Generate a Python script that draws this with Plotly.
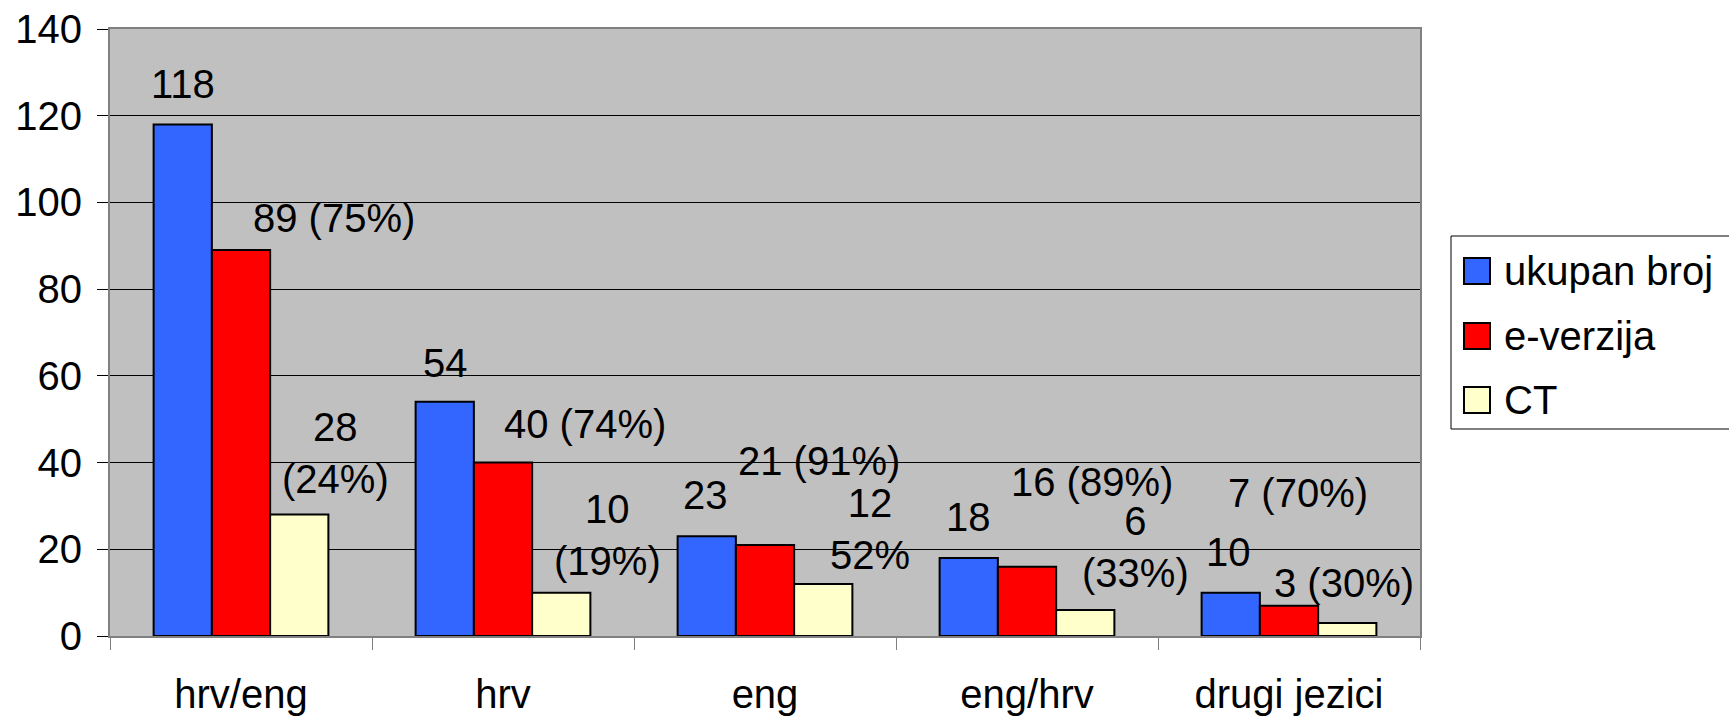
import plotly.graph_objects as go

# ---- data ----
categories = ["hrv/eng", "hrv", "eng", "eng/hrv", "drugi jezici"]
series_names = ["ukupan broj", "e-verzija", "CT"]
ukupan_broj = [118, 54, 23, 18, 10]
e_verzija = [89, 40, 21, 16, 7]
ct = [28, 10, 12, 6, 3]
ukupan_labels = ["118", "54", "23", "18", "10"]
e_verzija_labels = ["89 (75%)", "40 (74%)", "21 (91%)", "16 (89%)", "7 (70%)"]
ct_labels = ["28<br>(24%)", "10<br>(19%)", "12<br>52%", "6<br>(33%)", "3 (30%)"]
y_ticks = [0, 20, 40, 60, 80, 100, 120, 140]

# ---- styling / label placement (pixels relative to category centre & bar top) ----
colors = ["#3366FF", "#FF0000", "#FFFFCC"]
label_dx = [[-58, -58, -60, -59, -61],
            [93, 82, 54, 65, 9],
            [94, 104, 105, 108, 55]]
label_dy = [[40, 39, 41, 41, 41],
            [32, 39, 84, 85, 113],
            [62, 58, 55, 63, 40]]

W, H = 1729, 718
L, R, T, B = 110, 1420, 29, 636
FONT = "Liberation Sans, Arial, sans-serif"
FS = 40

values = [ukupan_broj, e_verzija, ct]
labels = [ukupan_labels, e_verzija_labels, ct_labels]

fig = go.Figure()
for name, vals, col in zip(series_names, values, colors):
    fig.add_trace(go.Bar(
        name=name, x=categories, y=vals,
        marker=dict(color=col, line=dict(color="black", width=2)),
        showlegend=False, hoverinfo="skip"))

annotations = []
for s in range(3):
    for i, cat in enumerate(categories):
        annotations.append(dict(
            x=cat, y=values[s][i], xref="x", yref="y",
            text=labels[s][i], showarrow=False,
            xanchor="center", yanchor="middle",
            xshift=label_dx[s][i], yshift=label_dy[s][i],
            font=dict(family=FONT, size=FS, color="black")))

# manual legend (pixel -> paper helpers)
def px_x(p):
    return (p - L) / (R - L)

def px_y(p):
    return (B - p) / (B - T)

shapes = [dict(type="rect", xref="paper", yref="paper",
               x0=px_x(1451), x1=px_x(1740), y0=px_y(429), y1=px_y(236),
               line=dict(color="black", width=1), fillcolor="white", layer="below")]
legend_y = [271, 336, 400]
for name, col, yc in zip(series_names, colors, legend_y):
    shapes.append(dict(type="rect", xref="paper", yref="paper",
                       x0=px_x(1464), x1=px_x(1490), y0=px_y(yc + 13), y1=px_y(yc - 13),
                       line=dict(color="black", width=2), fillcolor=col))
    annotations.append(dict(x=px_x(1502), y=px_y(yc), xref="paper", yref="paper",
                            text=name, showarrow=False, xanchor="left", yanchor="middle",
                            font=dict(family=FONT, size=FS, color="black")))

fig.update_layout(
    width=W, height=H,
    margin=dict(l=L, r=W - R, t=T, b=H - B, pad=0, autoexpand=False),
    paper_bgcolor="white", plot_bgcolor="#C0C0C0",
    barmode="group", bargap=0.333, bargroupgap=0,
    font=dict(family=FONT, size=FS, color="black"),
    annotations=annotations, shapes=shapes,
    showlegend=False, hovermode=False,
)
fig.update_yaxes(range=[0, 140], tickvals=y_ticks, showgrid=True, gridcolor="black", gridwidth=1,
                 showline=True, linecolor="#808080", linewidth=2, mirror=True,
                 ticks="outside", ticklen=11, tickcolor="black", tickwidth=1,
                 tickfont=dict(family=FONT, size=FS, color="black"), zeroline=False,
                 ticklabelstandoff=7, automargin=False)
fig.update_xaxes(showline=True, linecolor="#808080", linewidth=2, mirror=True,
                 ticks="outside", ticklen=12, tickcolor="#808080", tickwidth=1,
                 tickson="boundaries", showgrid=False,
                 tickfont=dict(family=FONT, size=FS, color="black"),
                 ticklabelstandoff=22, automargin=False)

fig.write_html("out.html", config={"displayModeBar": False},
               post_script="document.body.style.margin='0';document.body.style.overflow='hidden';")
